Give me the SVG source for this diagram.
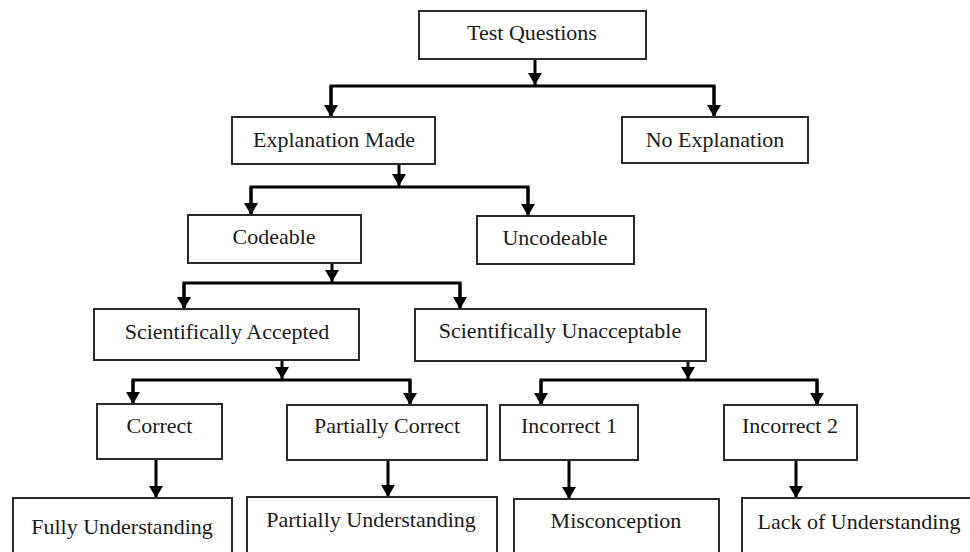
<svg xmlns="http://www.w3.org/2000/svg" width="970" height="552" viewBox="0 0 970 552">
<style>
.box{fill:#fff;stroke:#2a2a2a;stroke-width:2}
.lbl{font-family:"Liberation Serif","Times New Roman",serif;font-size:22px;fill:#1a1a1a;text-anchor:middle}
.con{fill:none;stroke:#000;stroke-width:3}
</style>
<defs>
<marker id="ah" markerUnits="userSpaceOnUse" markerWidth="14" markerHeight="12" viewBox="0 0 14 12" refX="7" refY="12" orient="0">
<path d="M0,0 L14,0 L7,12 Z" fill="#000"/>
</marker>
</defs>
<rect width="970" height="552" fill="#fff"/>
<g id="connectors">
<path class="con" d="M535,59 V85" marker-end="url(#ah)"/>
<path class="con" d="M331,117 V86 H714 V117"/>
<path class="con" d="M331,86 V117" marker-end="url(#ah)"/>
<path class="con" d="M714,86 V117" marker-end="url(#ah)"/>
<path class="con" d="M399,164 V186" marker-end="url(#ah)"/>
<path class="con" d="M251,215 V187 H528 V215"/>
<path class="con" d="M251,187 V215" marker-end="url(#ah)"/>
<path class="con" d="M528,187 V216" marker-end="url(#ah)"/>
<path class="con" d="M332,263 V282" marker-end="url(#ah)"/>
<path class="con" d="M184,308 V283 H460 V308"/>
<path class="con" d="M184,283 V309" marker-end="url(#ah)"/>
<path class="con" d="M460,283 V309" marker-end="url(#ah)"/>
<path class="con" d="M282,360 V379" marker-end="url(#ah)"/>
<path class="con" d="M133,404 V380 H410 V404"/>
<path class="con" d="M133,380 V404" marker-end="url(#ah)"/>
<path class="con" d="M410,380 V405" marker-end="url(#ah)"/>
<path class="con" d="M688,361 V379" marker-end="url(#ah)"/>
<path class="con" d="M541,404 V380 H817 V404"/>
<path class="con" d="M541,380 V405" marker-end="url(#ah)"/>
<path class="con" d="M817,380 V405" marker-end="url(#ah)"/>
<path class="con" d="M156,459 V498" marker-end="url(#ah)"/>
<path class="con" d="M388,460 V497" marker-end="url(#ah)"/>
<path class="con" d="M569,460 V499" marker-end="url(#ah)"/>
<path class="con" d="M796,460 V498" marker-end="url(#ah)"/>
</g>
<g id="test-questions"><rect class="box" x="419" y="11" width="227" height="48"/><text class="lbl" x="532" y="40">Test Questions</text></g>
<g id="explanation-made"><rect class="box" x="232" y="117" width="203" height="47"/><text class="lbl" x="334" y="147">Explanation Made</text></g>
<g id="no-explanation"><rect class="box" x="622" y="117" width="186" height="46"/><text class="lbl" x="715" y="147">No Explanation</text></g>
<g id="codeable"><rect class="box" x="188" y="215" width="173" height="48"/><text class="lbl" x="274" y="244">Codeable</text></g>
<g id="uncodeable"><rect class="box" x="477" y="216" width="157" height="48"/><text class="lbl" x="555" y="245">Uncodeable</text></g>
<g id="sci-accepted"><rect class="box" x="94" y="309" width="265" height="51"/><text class="lbl" x="227" y="339">Scientifically Accepted</text></g>
<g id="sci-unacceptable"><rect class="box" x="415" y="309" width="291" height="52"/><text class="lbl" x="560" y="338">Scientifically Unacceptable</text></g>
<g id="correct"><rect class="box" x="97" y="404" width="125" height="55"/><text class="lbl" x="159.5" y="433">Correct</text></g>
<g id="partially-correct"><rect class="box" x="287" y="405" width="200" height="55"/><text class="lbl" x="387" y="433">Partially Correct</text></g>
<g id="incorrect-1"><rect class="box" x="500" y="405" width="138" height="55"/><text class="lbl" x="569" y="433">Incorrect 1</text></g>
<g id="incorrect-2"><rect class="box" x="724" y="405" width="133" height="55"/><text class="lbl" x="790" y="433">Incorrect 2</text></g>
<g id="fully-understanding"><rect class="box" x="13" y="498" width="219" height="70"/><text class="lbl" x="122" y="534">Fully Understanding</text></g>
<g id="partially-understanding"><rect class="box" x="247" y="497" width="250" height="70"/><text class="lbl" x="371" y="527">Partially Understanding</text></g>
<g id="misconception"><rect class="box" x="514" y="499" width="205" height="70"/><text class="lbl" x="616" y="528">Misconception</text></g>
<g id="lack-of-understanding"><rect class="box" x="742" y="498" width="240" height="70"/><text class="lbl" x="859" y="529">Lack of Understanding</text></g>
</svg>
